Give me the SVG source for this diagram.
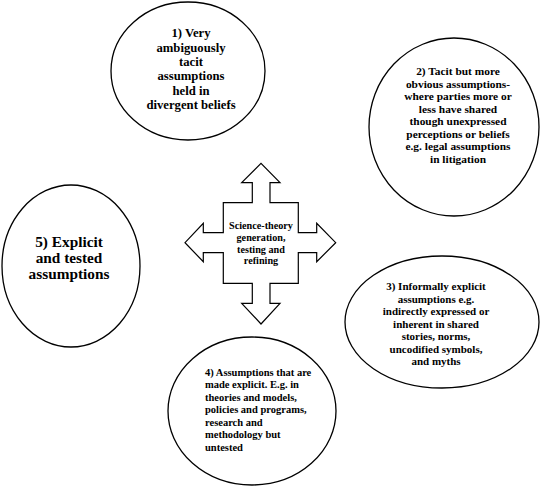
<svg xmlns="http://www.w3.org/2000/svg" width="545" height="487" viewBox="0 0 545 487">
<style>
.e{fill:#fff;stroke:#000;stroke-width:1.3}
text{font-family:"Liberation Serif","Times New Roman","DejaVu Serif",serif;font-weight:bold;fill:#000;text-anchor:middle}
text.l{text-anchor:start}
</style>
<rect width="545" height="487" fill="#fff"/>
<g id="connectors">
<path id="cross" d="M252.3,182.7 L241.7,182.7 L261,163.3 L280,182.7 L270,182.7 L270,202.7 L298.3,202.7 L298.3,232.7 L316.7,232.7 L316.7,223.3 L335.7,242.7 L316.7,261.7 L316.7,252.7 L298.3,252.7 L298.3,283.3 L270,283.3 L270,303.3 L280,303.3 L261,324 L241.7,303.3 L252.3,303.3 L252.3,283.3 L223.3,283.3 L223.3,252.7 L203.3,252.7 L203.3,261.7 L185,242.7 L203.3,223.3 L203.3,232.7 L223.3,232.7 L223.3,202.7 L252.3,202.7 Z" fill="#fff" stroke="#000" stroke-width="1.2"/>
<text font-family="Liberation Serif, serif" font-size="10.2"><tspan x="261" y="229">Science-theory</tspan><tspan x="261" y="241">generation,</tspan><tspan x="261" y="252.5">testing and</tspan><tspan x="261" y="264">refining</tspan></text>
</g>
<g id="n1">
<ellipse class="e" cx="188" cy="71" rx="77" ry="69"/>
<text font-family="Liberation Serif, serif" font-size="12.7"><tspan x="191" y="37">1) Very</tspan><tspan x="191" y="51.5">ambiguously</tspan><tspan x="191" y="66">tacit</tspan><tspan x="191" y="80">assumptions</tspan><tspan x="191" y="94.5">held in</tspan><tspan x="191" y="109">divergent beliefs</tspan></text>
</g>
<g id="n2">
<ellipse class="e" cx="454" cy="127" rx="85" ry="89"/>
<text font-family="Liberation Serif, serif" font-size="11.4"><tspan x="458" y="75">2) Tacit but more</tspan><tspan x="458" y="87.5">obvious assumptions-</tspan><tspan x="458" y="100">where parties more or</tspan><tspan x="458" y="112.5">less have shared</tspan><tspan x="458" y="125">though unexpressed</tspan><tspan x="458" y="137.5">perceptions or beliefs</tspan><tspan x="458" y="150">e.g. legal assumptions</tspan><tspan x="458" y="162.5">in litigation</tspan></text>
</g>
<g id="n3">
<ellipse class="e" cx="442" cy="322" rx="97" ry="66"/>
<text font-family="Liberation Serif, serif" font-size="11"><tspan x="436" y="290">3) Informally explicit</tspan><tspan x="436" y="302.5">assumptions e.g.</tspan><tspan x="436" y="315">indirectly expressed or</tspan><tspan x="436" y="327.5">inherent in shared</tspan><tspan x="436" y="340">stories, norms,</tspan><tspan x="436" y="352.5">uncodified symbols,</tspan><tspan x="436" y="365">and myths</tspan></text>
</g>
<g id="n4">
<ellipse class="e" cx="252" cy="411" rx="84" ry="74"/>
<text class="l" font-family="Liberation Serif, serif" font-size="10.5"><tspan x="205" y="375.5">4) Assumptions that are</tspan><tspan x="205" y="388">made explicit. E.g. in</tspan><tspan x="205" y="400.5">theories and models,</tspan><tspan x="205" y="413">policies and programs,</tspan><tspan x="205" y="425.5">research and</tspan><tspan x="205" y="438">methodology but</tspan><tspan x="205" y="450.5">untested</tspan></text>
</g>
<g id="n5">
<ellipse class="e" cx="71" cy="266" rx="69" ry="81"/>
<text font-family="Liberation Serif, serif" font-size="15.3"><tspan x="69" y="247">5) Explicit</tspan><tspan x="69" y="263">and tested</tspan><tspan x="69" y="279">assumptions</tspan></text>
</g>
</svg>
